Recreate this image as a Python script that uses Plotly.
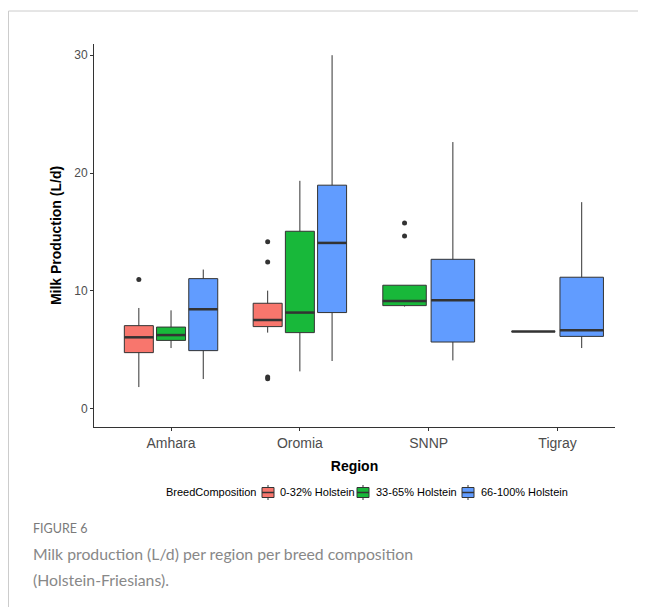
import plotly.graph_objects as go

# ---- data ----
regions = ["Amhara", "Oromia", "SNNP", "Tigray"]
groups = ["0-32% Holstein", "33-65% Holstein", "66-100% Holstein"]
colors = ["#F8766D", "#18B83A", "#619CFF"]

q1_red = [4.76, 6.97, None, 6.55]
med_red = [6.06, 7.53, None, 6.55]
q3_red = [7.05, 8.95, None, 6.55]
low_red = [1.84, 6.46, None, 6.55]
up_red = [8.55, 10.02, None, 6.55]
out_red = [[10.96], [14.16, 12.46, 2.69, 2.55], [], []]

q1_green = [5.80, 6.46, 8.75, None]
med_green = [6.25, 8.16, 9.14, None]
q3_green = [6.93, 15.06, 10.48, None]
low_green = [5.15, 3.17, 8.67, None]
up_green = [8.35, 19.34, 10.48, None]
out_green = [[], [], [15.77, 14.66], []]

q1_blue = [4.93, 8.16, 5.66, 6.14]
med_blue = [8.44, 14.07, 9.20, 6.65]
q3_blue = [11.04, 18.97, 12.68, 11.16]
low_blue = [2.52, 4.05, 4.10, 5.15]
up_blue = [11.81, 30.0, 22.63, 17.53]
out_blue = [[], [], [], []]

stats = [
    (q1_red, med_red, q3_red, low_red, up_red, out_red),
    (q1_green, med_green, q3_green, low_green, up_green, out_green),
    (q1_blue, med_blue, q3_blue, low_blue, up_blue, out_blue),
]

fig = go.Figure()
OUT = "#333333"
DODGE = 0.75
for ri, reg in enumerate(regions):
    xc = ri + 1
    present = [gi for gi in range(3) if stats[gi][0][ri] is not None]
    n = len(present)
    slot = DODGE / n
    bw = slot * 0.9
    for k, gi in enumerate(present):
        q1, md, q3, lo, up, outs = stats[gi]
        c = xc - DODGE / 2 + slot * (k + 0.5)
        fig.add_trace(go.Box(
            x=[c], q1=[q1[ri]], median=[md[ri]], q3=[q3[ri]],
            lowerfence=[lo[ri]], upperfence=[up[ri]],
            width=bw, whiskerwidth=0,
            fillcolor=colors[gi], line=dict(color=OUT, width=1),
            boxpoints=False, name=groups[gi], showlegend=False, hoverinfo="skip",
        ))
        fig.add_trace(go.Scatter(
            x=[c - bw / 2, c + bw / 2], y=[md[ri], md[ri]], mode="lines",
            line=dict(color=OUT, width=2.5), showlegend=False, hoverinfo="skip",
        ))
        if outs[ri]:
            fig.add_trace(go.Scatter(
                x=[c] * len(outs[ri]), y=outs[ri], mode="markers",
                marker=dict(color=OUT, size=5), showlegend=False, hoverinfo="skip",
            ))

# page body has an 8px margin; work in reference page pixels and shift
OFF = 8
W, H = 646 - OFF, 607 - OFF
L, R, T, B = 94 - OFF, 31, 44 - OFF, 180
pw, ph = W - L - R, H - T - B

def px(x):
    return (x - OFF - L) / pw

def py(y):
    return (H - B - (y - OFF)) / ph

FRAME = "#cccccc"
fig.add_shape(type="line", xref="paper", yref="paper", x0=px(8.5), x1=px(646), y0=py(11), y1=py(11),
              line=dict(color=FRAME, width=1))
fig.add_shape(type="line", xref="paper", yref="paper", x0=px(8.5), x1=px(8.5), y0=py(11), y1=py(607),
              line=dict(color=FRAME, width=1))

# legend (drawn manually to match ggplot spacing)
fig.add_annotation(xref="paper", yref="paper", x=px(164), y=py(492), xanchor="left", yanchor="middle",
                   text="BreedComposition", showarrow=False, font=dict(size=11, color="black"))
icon_x = [262, 357, 462]
text_x = [278, 374, 479]
for gi in range(3):
    x0 = icon_x[gi]
    fig.add_shape(type="line", xref="paper", yref="paper", x0=px(x0 + 6), x1=px(x0 + 6),
                  y0=py(485), y1=py(500), line=dict(color=OUT, width=1))
    fig.add_shape(type="rect", xref="paper", yref="paper", x0=px(x0), x1=px(x0 + 12),
                  y0=py(487.5), y1=py(497.5), fillcolor=colors[gi], line=dict(color=OUT, width=1))
    fig.add_shape(type="line", xref="paper", yref="paper", x0=px(x0), x1=px(x0 + 12),
                  y0=py(492.5), y1=py(492.5), line=dict(color=OUT, width=1.5))
    fig.add_annotation(xref="paper", yref="paper", x=px(text_x[gi]), y=py(492), xanchor="left",
                       yanchor="middle", text=groups[gi], showarrow=False,
                       font=dict(size=11, color="black"))

CAP = "#888888"
fig.add_annotation(xref="paper", yref="paper", x=px(31), y=py(528), xanchor="left", yanchor="middle",
                   text="FIGURE 6", showarrow=False,
                   font=dict(family="Lato", size=12.5, color="#7a7a7a"))
fig.add_annotation(xref="paper", yref="paper", x=px(31), y=py(553), xanchor="left", yanchor="middle",
                   text="Milk production (L/d) per region per breed composition", showarrow=False,
                   font=dict(family="Lato", size=15.8, color=CAP))
fig.add_annotation(xref="paper", yref="paper", x=px(31), y=py(579), xanchor="left", yanchor="middle",
                   text="(Holstein-Friesians).", showarrow=False,
                   font=dict(family="Lato", size=15.8, color=CAP))

fig.update_layout(
    width=W, height=H,
    margin=dict(l=L, r=R, t=T, b=B, autoexpand=False),
    paper_bgcolor="white", plot_bgcolor="white",
    font=dict(family="Liberation Sans, Arial", color="#4d4d4d"),
    showlegend=False,
    xaxis=dict(range=[0.402, 4.446], tickvals=[1, 2, 3, 4], ticktext=regions,
               showgrid=False, zeroline=False, showline=True, linecolor="#333333", linewidth=1,
               ticks="outside", ticklen=3, tickcolor="#333333",
               tickfont=dict(size=14, color="#4d4d4d"),
               title=dict(text="<b>Region</b>", font=dict(size=14, color="black"), standoff=11)),
    yaxis=dict(range=[-1.55, 30.95], tickvals=[0, 10, 20, 30],
               showgrid=False, zeroline=False, showline=True, linecolor="#333333", linewidth=1,
               ticks="outside", ticklen=3, tickcolor="#333333",
               tickfont=dict(size=12, color="#4d4d4d"),
               title=dict(text="<b>Milk Production (L/d)</b>", font=dict(size=14, color="black"), standoff=9)),
)

fig.write_html("out.html")
